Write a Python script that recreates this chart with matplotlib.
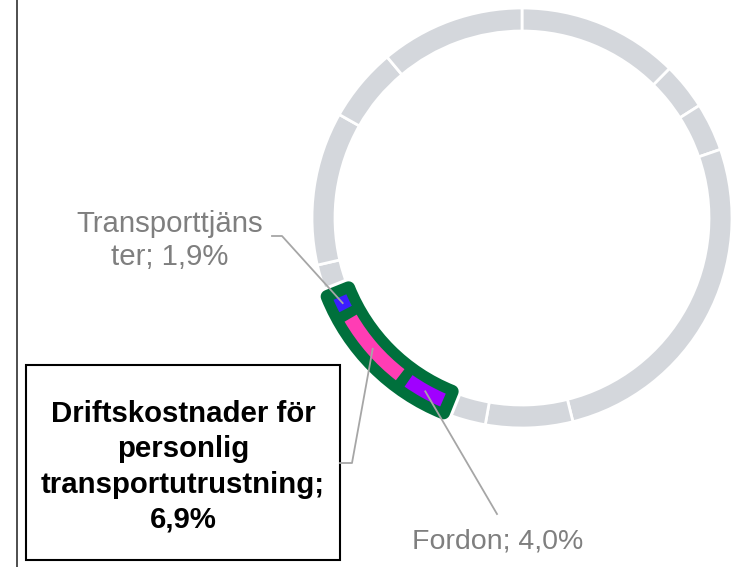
import numpy as np
import matplotlib
matplotlib.use("Agg")
import matplotlib.pyplot as plt
from matplotlib.patches import Wedge, Rectangle

plt.rcParams['font.family'] = ['Liberation Sans', 'DejaVu Sans']

# Ring shares in percent, clockwise from 12 o'clock
gray_before = [12.4, 3.6, 3.7, 26.4, 6.7, 3.3]
transport_labels = ['Fordon', 'Driftskostnader för personlig transportutrustning', 'Transporttjänster']
transport_values = [4.0, 6.9, 1.9]
transport_colors = ['#A000FF', '#FF3DB4', '#3C1EFF']
gray_after = [2.5, 11.8, 5.7, 11.1]

values = gray_before + transport_values + gray_after
n_before = len(gray_before)
n_trans = len(transport_values)

W, H = 741, 567
fig = plt.figure(figsize=(W / 100, H / 100), dpi=100)
ax = fig.add_axes([0, 0, 1, 1])

cx, cy = 522, 349
r_out, ring_w = 210, 23

ring_gray = '#D4D7DC'
green = '#00703C'
colors = [ring_gray] * n_before + ['none'] * n_trans + [ring_gray] * len(gray_after)

ax.pie(values, colors=colors, startangle=90, counterclock=False,
       center=(cx, cy), radius=r_out,
       wedgeprops=dict(width=ring_w, edgecolor='white', linewidth=2.0))

# angles of each slice (matplotlib convention, counter-clockwise from east)
bounds_cw = np.concatenate([[0], np.cumsum(values)]) * 3.6
def theta(cw):
    return 90 - cw

g_start = bounds_cw[n_before]
g_end = bounds_cw[n_before + n_trans]

# highlighted group: white halo, then green block with rounded corners
for ec, lw in [('white', 14), (green, 9.5)]:
    ax.add_patch(Wedge((cx, cy), r_out, theta(g_end), theta(g_start), width=ring_w,
                       facecolor=green, edgecolor=ec, linewidth=lw,
                       joinstyle='round', zorder=3))

# inner coloured pieces for each sub-category
pad = 1.5
inner_w = 14
r_mid = r_out - ring_w / 2
mids = {}
for i, (lab, col) in enumerate(zip(transport_labels, transport_colors)):
    a0 = bounds_cw[n_before + i]
    a1 = bounds_cw[n_before + i + 1]
    ax.add_patch(Wedge((cx, cy), r_mid + inner_w / 2, theta(a1 - pad), theta(a0 + pad),
                       width=inner_w, facecolor=col, edgecolor='none', zorder=4))
    m = np.radians(theta((a0 + a1) / 2))
    mids[lab] = (cx + r_mid * np.cos(m), cy + r_mid * np.sin(m))

lead = '#A6A6A6'
txt_gray = '#7F7F7F'
fs = 21.2

def py(y):
    return H - y

# Transporttjänster label
bx, by = mids['Transporttjänster']
ax.plot([272, 282, bx], [py(236), py(236), by], color=lead, lw=1.3, zorder=5)
ax.text(170, py(240.5), 'Transporttjäns\nter; 1,9%', ha='center', va='center',
        fontsize=fs, color=txt_gray, linespacing=1.27)

# boxed label for the largest piece
ax.add_patch(Rectangle((26, py(560)), 314, 195, facecolor='white',
                       edgecolor='black', linewidth=1.5, zorder=5))
px_, py_ = mids['Driftskostnader för personlig transportutrustning']
ax.plot([340, 352, px_], [py(463), py(463), py_], color=lead, lw=1.3, zorder=5)
ax.text(183, py(467), 'Driftskostnader för\npersonlig\ntransportutrustning;\n6,9%',
        ha='center', va='center', fontsize=fs, fontweight='bold', color='black',
        linespacing=1.32, zorder=6)

# Fordon label
fx, fy = mids['Fordon']
ax.plot([fx, 497], [fy, py(514)], color=lead, lw=1.3, zorder=5)
ax.text(498, py(542), 'Fordon; 4,0%', ha='center', va='center',
        fontsize=20.5, color=txt_gray)

# left frame line
ax.plot([17, 17], [0, H], color='#404040', lw=1.3)

ax.set_xlim(0, W)
ax.set_ylim(0, H)
ax.set_aspect('auto')
ax.axis('off')

fig.savefig('out.png', dpi=100)
